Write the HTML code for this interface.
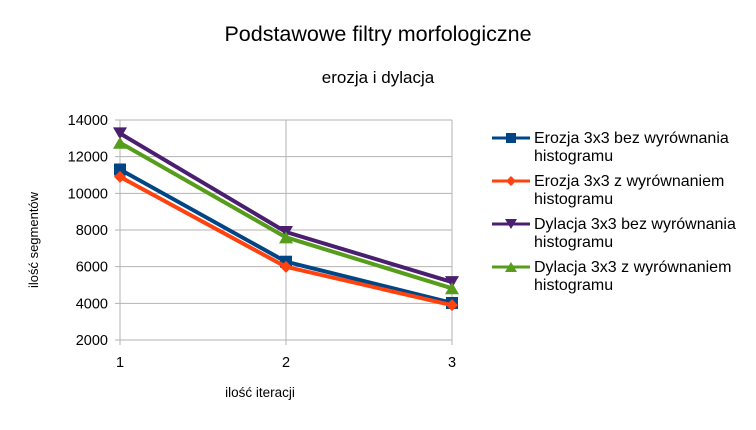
<!DOCTYPE html>
<html><head><meta charset="utf-8"><style>
body{margin:0;background:#fff;}
svg text{font-family:"Liberation Sans",sans-serif;fill:#000;}
</style></head><body>
<svg id="c" width="756" height="425" xmlns="http://www.w3.org/2000/svg">
<text x="378" y="41" font-size="21.5" text-anchor="middle">Podstawowe filtry morfologiczne</text>
<text x="378" y="83" font-size="17" text-anchor="middle">erozja i dylacja</text>
<text x="0" y="0" font-size="13" text-anchor="middle" transform="translate(38,240) rotate(-90)">ilość segmentów</text>
<text x="260" y="397" font-size="13.5" text-anchor="middle">ilość iteracji</text>
<g id="grid"></g><g id="series"></g><g id="legend"></g>
</svg>
<script>
const categories=["1","2","3"];
const yTicks=[2000,4000,6000,8000,10000,12000,14000];
const names=["Erozja 3x3 bez wyrównania","Erozja 3x3 z wyrównaniem","Dylacja 3x3 bez wyrównania","Dylacja 3x3 z wyrównaniem"];
const erozjaBez=[11300,6270,4020];
const erozjaZ=[10900,5990,3900];
const dylacjaBez=[13270,7890,5160];
const dylacjaZ=[12760,7600,4820];
const series=[erozjaBez,erozjaZ,dylacjaBez,dylacjaZ];
const colors=["#004586","#ff420e","#4b1f6f","#579d1c"];
const markers=["square","diamond","down","up"];
const NS="http://www.w3.org/2000/svg";
const x0=120,x1=452,yTop=120,yBot=340;
const X=i=>x0+i*(x1-x0)/(categories.length-1);
const Y=v=>yBot-(v-2000)/(12000)*(yBot-yTop);
function mk(tag,a,p){const e=document.createElementNS(NS,tag);for(const k in a)e.setAttribute(k,a[k]);p.appendChild(e);return e;}
const g=document.getElementById('grid');
yTicks.forEach(t=>{
 const l=mk('line',{x1:x0-5,x2:x1,y1:Y(t),y2:Y(t),stroke:'#b3b3b3','stroke-width':1},g);
 
 
 const tx=mk('text',{x:x0-12,y:Y(t)+5,'font-size':14.5,'text-anchor':'end'},g);tx.textContent=t;
 
 
});
categories.forEach((c,i)=>{
 const l=mk('line',{x1:X(i),x2:X(i),y1:yTop,y2:yBot+5,stroke:'#b3b3b3','stroke-width':1},g);
 
 
 const tx=mk('text',{x:X(i),y:yBot+27,'font-size':14.5,'text-anchor':'middle'},g);tx.textContent=c;
 
 
});
function marker(type,x,y,col,p,s){
 let e;
 if(type=="square")e=mk('rect',{x:x-s,y:y-s,width:2*s,height:2*s,fill:col},p);
 else if(type=="diamond")e=mk('polygon',{points:`${x},${y-s} ${x+s},${y} ${x},${y+s} ${x-s},${y}`,fill:col},p);
 else if(type=="down")e=mk('polygon',{points:`${x-s-1},${y-s} ${x+s+1},${y-s} ${x},${y+s}`,fill:col},p);
 else e=mk('polygon',{points:`${x-s-1},${y+s} ${x+s+1},${y+s} ${x},${y-s}`,fill:col},p);
 return e;
}
const sg=document.getElementById('series');
series.forEach((d,si)=>{
 const pl=mk('polyline',{points:d.map((v,i)=>X(i)+','+Y(v)).join(' '),fill:'none',stroke:colors[si],'stroke-width':4,'stroke-linejoin':'round'},sg);
 
 
 d.forEach((v,i)=>{const m=marker(markers[si],X(i),Y(v),colors[si],sg,6);
  
  });
});
const lg=document.getElementById('legend');
names.forEach((n,i)=>{
 const y=138+i*43;
 const l=mk('line',{x1:492,x2:530,y1:y,y2:y,stroke:colors[i],'stroke-width':3},lg);
 
 
 marker(markers[i],511,y,colors[i],lg,5);
 const t=mk('text',{x:534,y:y+5,'font-size':16},lg);t.textContent=n;
 
 
 const t2=mk('text',{x:534,y:y+23,'font-size':16},lg);t2.textContent='histogramu';
 
 
});
</script>
</body></html>
